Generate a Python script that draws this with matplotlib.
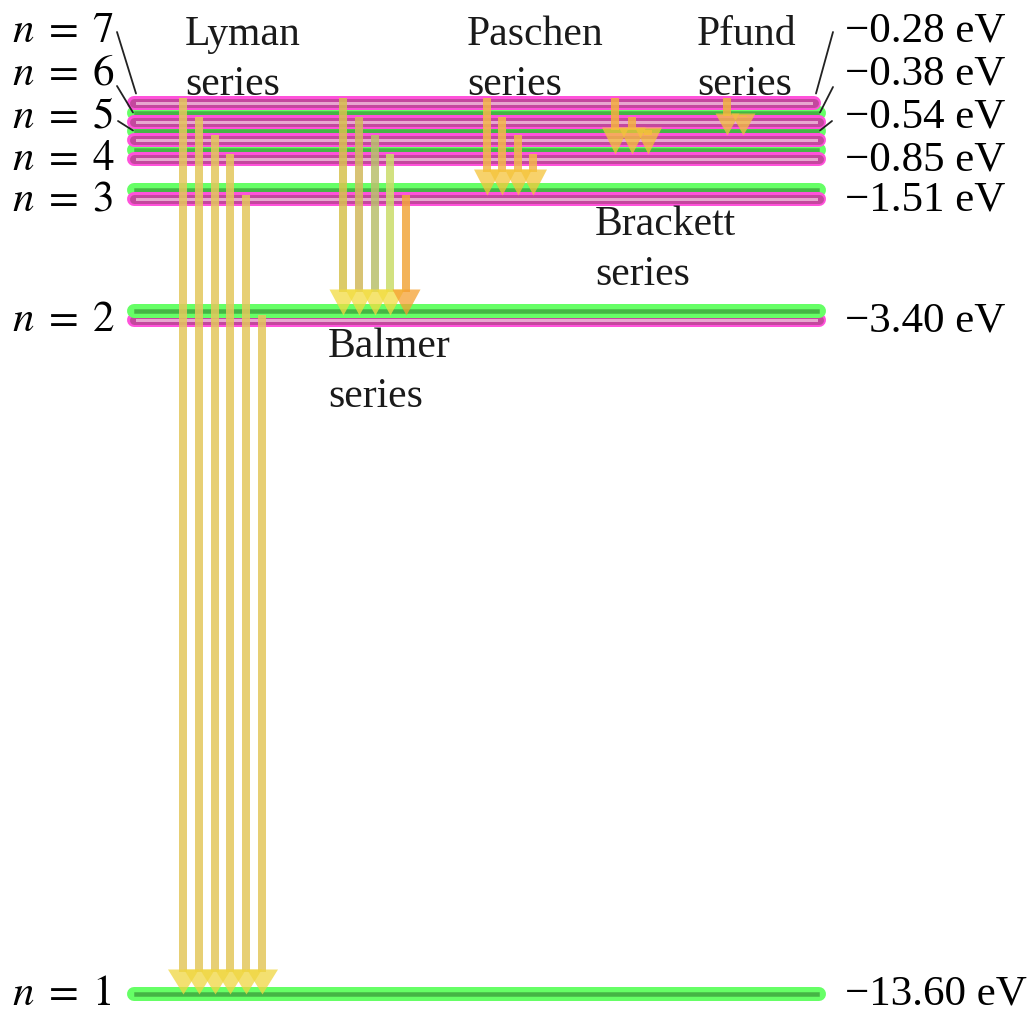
import numpy as np
import matplotlib
matplotlib.use('Agg')
import matplotlib.pyplot as plt
from matplotlib.path import Path
from matplotlib.transforms import offset_copy

# ---------------- data ----------------
levels = [1, 2, 3, 4, 5, 6, 7]
energies_eV = [-13.60, -3.40, -1.51, -0.85, -0.54, -0.38, -0.28]
series_names = ['Lyman', 'Balmer', 'Paschen', 'Brackett', 'Pfund']
series_lower = [1, 2, 3, 4, 5]
series_upper = [[7, 6, 5, 4, 3, 2], [7, 6, 5, 4, 3], [7, 6, 5, 4], [7, 6, 5], [7, 6]]

# ---------------- style / layout ----------------
plt.rcParams['mathtext.fontset'] = 'stix'
plt.rcParams['font.family'] = ['Liberation Serif', 'DejaVu Serif']

W, H = 1029, 1012
PT = 0.72  # points per pixel at dpi 100
fig = plt.figure(figsize=(W / 100, H / 100), dpi=100)
ax = fig.add_axes([0, 0, 1, 1])
ax.set_axis_off()

# diagram scale: energy -> depth in the drawing (upper levels stretched for legibility)
scale_E = [-15.0, -13.6, -3.4, -1.51, -0.85, -0.54, -0.38, -0.28, 0.0]
scale_px = [1088, 995, 316, 195.5, 155, 136, 118, 99, 0]


def fwd(e):
    return -np.interp(np.asarray(e, dtype=float), scale_E, scale_px)


def inv(v):
    return np.interp(-np.asarray(v, dtype=float), scale_px[::-1], scale_E[::-1])


ax.set_yscale('function', functions=(fwd, inv))
ax.set_xlim(0, W)
ax.set_ylim(float(inv(-H)), float(inv(0)))

up = offset_copy(ax.transData, fig=fig, x=0, y=4.5, units='dots')
down = offset_copy(ax.transData, fig=fig, x=0, y=-4.5, units='dots')

x0, x1 = 134, 819
for n, E in zip(levels, energies_eV):
    gz = 3 if n <= 2 else 1
    gtr = ax.transData if n == 1 else up
    if n <= 6:
        ax.plot([x0, x1], [E, E], color='#66ff66', lw=14 * PT,
                solid_capstyle='round', transform=gtr, zorder=gz)
        ax.plot([x0 + 2, x1 - 2], [E, E], color='#3a9d3a', lw=4.5 * PT,
                alpha=0.75, transform=gtr, zorder=gz + 0.1)
    if n >= 2:
        xe = x1 - 5 if n == 7 else x1
        ax.plot([x0, xe], [E, E], color='#ff52da', lw=14 * PT,
                solid_capstyle='round', transform=down, zorder=2)
        ax.plot([x0, xe], [E, E], color='#c4479e', lw=9 * PT,
                solid_capstyle='round', transform=down, zorder=2.1)
        ax.plot([x0 + 3, xe - 3], [E, E], color='#e8a6d0', lw=3 * PT,
                transform=down, zorder=2.2)

# ---------------- arrows ----------------
arrow_x0 = [183, 343, 487, 615, 727]
arrow_dx = [15.8, 15.8, 15.3, 16.5, 16]
head_w = [31, 28, 27, 27, 24]
head_h = [25, 26, 26, 27, 22]
shaft_colors = [
    ['#e3c75c'] * 6,
    ['#d6c24e', '#d2b95c', '#b9c06c', '#cadc6a', '#f2a63c'],
    ['#f3b84a'] * 4,
    ['#f4b040'] * 3,
    ['#f0b040'] * 2,
]
head_colors = [
    ['#f0d640'] * 6,
    ['#f2dc40', '#f2dc40', '#f2dc40', '#f2dc40', '#f5a030'],
    ['#f5c43a'] * 4,
    ['#f5c43a'] * 3,
    ['#f2c040'] * 2,
]

E_of = dict(zip(levels, energies_eV))
for si in range(len(series_names)):
    lo = E_of[series_lower[si]]
    w, h = head_w[si], head_h[si]
    marker = Path([(-w / 2 / h, 1), (w / 2 / h, 1), (0, 0), (-w / 2 / h, 1)],
                  [Path.MOVETO, Path.LINETO, Path.LINETO, Path.CLOSEPOLY])
    for k, nu in enumerate(series_upper[si]):
        x = arrow_x0[si] + k * arrow_dx[si]
        hi = E_of[nu]
        d = ax.transData.transform((x, lo))
        base = ax.transData.inverted().transform((d[0], d[1] + h - 3))[1]
        ax.plot([x, x], [hi, base], color=shaft_colors[si][k], lw=8 * PT,
                solid_capstyle='butt', alpha=0.85, zorder=5)
        ax.plot([x], [lo], marker=marker, ms=2 * h * PT, mew=0,
                color=head_colors[si][k], alpha=0.75, zorder=6)

# ---------------- labels ----------------
FS = 31
left_lab = {n: r'$n\;=\;%d$' % n for n in levels}
right_lab = {n: '\u2212%.2f eV' % abs(E) for n, E in zip(levels, energies_eV)}
base_off = offset_copy(ax.transData, fig=fig, x=0, y=-15, units='dots')
base_off1 = offset_copy(ax.transData, fig=fig, x=0, y=-10, units='dots')
for n, E in zip(levels, energies_eV):
    if n <= 4:
        tr = base_off1 if n == 1 else base_off
        ax.text(12, E, left_lab[n], fontsize=FS, ha='left', va='baseline', transform=tr)
        ax.text(845, E, right_lab[n], fontsize=FS, ha='left', va='baseline', transform=tr)

stack_baselines = {5: 128, 6: 85, 7: 42}
for n, b in stack_baselines.items():
    ax.annotate(left_lab[n], xy=(12, H - b), xycoords='figure pixels',
                fontsize=FS, ha='left', va='baseline')
    ax.annotate(right_lab[n], xy=(845, H - b), xycoords='figure pixels',
                fontsize=FS, ha='left', va='baseline')

# leader lines for the crowded upper levels
left_starts = {7: (117, 33), 6: (117, 87), 5: (118, 122)}
left_ends = {7: 136, 6: 133, 5: 133}
right_starts = {7: (833, 33), 6: (833, 88), 5: (832, 122)}
right_ends = {7: 816, 6: 820, 5: 820}
for n in (5, 6, 7):
    E = E_of[n]
    sx, sy = left_starts[n]
    ax.annotate('', xy=(left_ends[n], E), xycoords=up, xytext=(sx, H - sy),
                textcoords='figure pixels',
                arrowprops=dict(arrowstyle='-', color='#222222', lw=1.3,
                                shrinkA=0, shrinkB=0), zorder=7)
    sx, sy = right_starts[n]
    ax.annotate('', xy=(right_ends[n], E), xycoords=up, xytext=(sx, H - sy),
                textcoords='figure pixels',
                arrowprops=dict(arrowstyle='-', color='#222222', lw=1.3,
                                shrinkA=0, shrinkB=0), zorder=7)

# series names
series_pos = [(185, 45), (328, 357), (467, 45), (595, 235), (697, 45)]
for name, (sx, sb) in zip(series_names, series_pos):
    ax.annotate(name, xy=(sx, H - sb), xycoords='figure pixels', fontsize=30,
                ha='left', va='baseline', color='#1a1a1a')
    ax.annotate('series', xy=(sx, H - sb - 50), xycoords='figure pixels', fontsize=30,
                ha='left', va='baseline', color='#1a1a1a')

fig.savefig('out.png', dpi=100)
